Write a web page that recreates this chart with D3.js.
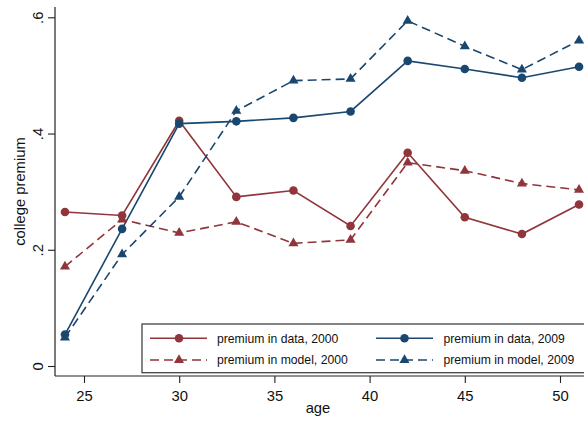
<!DOCTYPE html>
<html>
<head>
<meta charset="utf-8">
<script src="https://cdn.jsdelivr.net/npm/d3@7"></script>
<style>
  html, body { margin: 0; padding: 0; background: #fff; }
  svg { display: block; font-family: "Liberation Sans", Arial, sans-serif; }
</style>
</head>
<body>
<svg id="chart" width="584" height="421"></svg>
<script>
const ages = [24, 27, 30, 33, 36, 39, 42, 45, 48, 51];
const dataPremium2000  = [0.265, 0.259, 0.422, 0.291, 0.302, 0.241, 0.367, 0.256, 0.227, 0.278];
const modelPremium2000 = [0.171, 0.252, 0.229, 0.248, 0.211, 0.217, 0.350, 0.336, 0.314, 0.303];
const dataPremium2009  = [0.054, 0.236, 0.417, 0.421, 0.427, 0.438, 0.525, 0.511, 0.496, 0.515];
const modelPremium2009 = [0.049, 0.192, 0.291, 0.439, 0.491, 0.494, 0.594, 0.550, 0.510, 0.560];
const xTicks = [25, 30, 35, 40, 45, 50];
const yTicks = [0, 0.2, 0.4, 0.6];
const yTickLabels = ["0", ".2", ".4", ".6"];
const seriesNames = ["premium in data, 2000", "premium in data, 2009", "premium in model, 2000", "premium in model, 2009"];

const red = "#90353b", blue = "#1a476f";
const series = [
  {name: seriesNames[0], values: dataPremium2000,  color: red,  dash: null,  symbol: d3.symbolCircle},
  {name: seriesNames[1], values: dataPremium2009,  color: blue, dash: null,  symbol: d3.symbolCircle},
  {name: seriesNames[2], values: modelPremium2000, color: red,  dash: "9,5", symbol: d3.symbolTriangle},
  {name: seriesNames[3], values: modelPremium2009, color: blue, dash: "9,5", symbol: d3.symbolTriangle}
];

const svg = d3.select("#chart");
const x = d3.scaleLinear().domain([25, 50]).range([84, 560]);
const y = d3.scaleLinear().domain([0, 0.6]).range([366, 17.3]);
const axisX0 = 55, axisY0 = 376, plotTop = 7;

// lines + markers (draw 2000 model, 2009 model, then data)
const line = d3.line().x((d, i) => x(ages[i])).y(d => y(d));
const drawOrder = [series[0], series[1], series[2], series[3]];
drawOrder.forEach(s => {
  svg.append("path")
    .attr("d", line(s.values))
    .attr("fill", "none")
    .attr("stroke", s.color)
    .attr("stroke-width", 1.6)
    .attr("stroke-dasharray", s.dash);
});
drawOrder.forEach(s => {
  const sym = d3.symbol().type(s.symbol).size(s.symbol === d3.symbolCircle ? 58 : 44);
  svg.append("g").selectAll("path").data(s.values).join("path")
    .attr("d", sym)
    .attr("transform", (d, i) => `translate(${x(ages[i])},${y(d)})`)
    .attr("fill", s.color);
});

// axes
const axisColor = "#222";
svg.append("line").attr("x1", axisX0).attr("x2", axisX0).attr("y1", plotTop).attr("y2", axisY0)
  .attr("stroke", axisColor).attr("stroke-width", 1.2);
svg.append("line").attr("x1", axisX0).attr("x2", 584).attr("y1", axisY0).attr("y2", axisY0)
  .attr("stroke", axisColor).attr("stroke-width", 1.2);

const gx = svg.append("g").attr("transform", `translate(0,${axisY0})`)
  .call(d3.axisBottom(x).tickValues(xTicks).tickSize(7).tickPadding(7).tickSizeOuter(0));
gx.select(".domain").remove();
gx.selectAll("line").attr("stroke", axisColor).attr("stroke-width", 1.1);
gx.selectAll("text").attr("font-size", 14.8).attr("fill", "#111")
  .attr("font-family", "Liberation Sans, Arial, sans-serif");

const gy = svg.append("g").attr("transform", `translate(${axisX0},0)`)
  .call(d3.axisLeft(y).tickValues(yTicks).tickSize(7).tickFormat((d, i) => yTickLabels[i]).tickSizeOuter(0));
gy.select(".domain").remove();
gy.selectAll("line").attr("stroke", axisColor).attr("stroke-width", 1.1);
gy.selectAll("text")
  .attr("font-size", 14.8).attr("fill", "#111")
  .attr("font-family", "Liberation Sans, Arial, sans-serif")
  .attr("x", null).attr("dy", null)
  .attr("text-anchor", "middle")
  .attr("transform", "translate(-12.5,0) rotate(-90)");

// axis titles
svg.append("text").attr("x", 318).attr("y", 413).attr("text-anchor", "middle")
  .attr("font-size", 14.8).attr("fill", "#111").text("age");
svg.append("text").attr("transform", "translate(25,191.5) rotate(-90)").attr("text-anchor", "middle")
  .attr("font-size", 14.8).attr("fill", "#111").text("college premium");

// legend
const lg = svg.append("g");
lg.append("rect").attr("x", 142).attr("y", 324).attr("width", 460).attr("height", 48.7)
  .attr("fill", "#fff").attr("stroke", "#444").attr("stroke-width", 1.3);
const legendPos = [
  {lx: 150, mx: 179, tx: 217, ty: 338.3},
  {lx: 376, mx: 404.5, tx: 443.5, ty: 338.3},
  {lx: 150, mx: 179, tx: 217, ty: 360},
  {lx: 376, mx: 404.5, tx: 443.5, ty: 360}
];
series.forEach((s, i) => {
  const p = legendPos[i];
  lg.append("line").attr("x1", p.lx).attr("x2", p.lx + 57).attr("y1", p.ty).attr("y2", p.ty)
    .attr("stroke", s.color).attr("stroke-width", 1.6).attr("stroke-dasharray", s.dash);
  lg.append("path")
    .attr("d", d3.symbol().type(s.symbol).size(s.symbol === d3.symbolCircle ? 58 : 44)())
    .attr("transform", `translate(${p.mx},${p.ty})`).attr("fill", s.color);
  lg.append("text").attr("x", p.tx).attr("y", p.ty + 4.3).attr("font-size", 12.2)
    .attr("fill", "#111").text(s.name);
});
</script>
</body>
</html>
